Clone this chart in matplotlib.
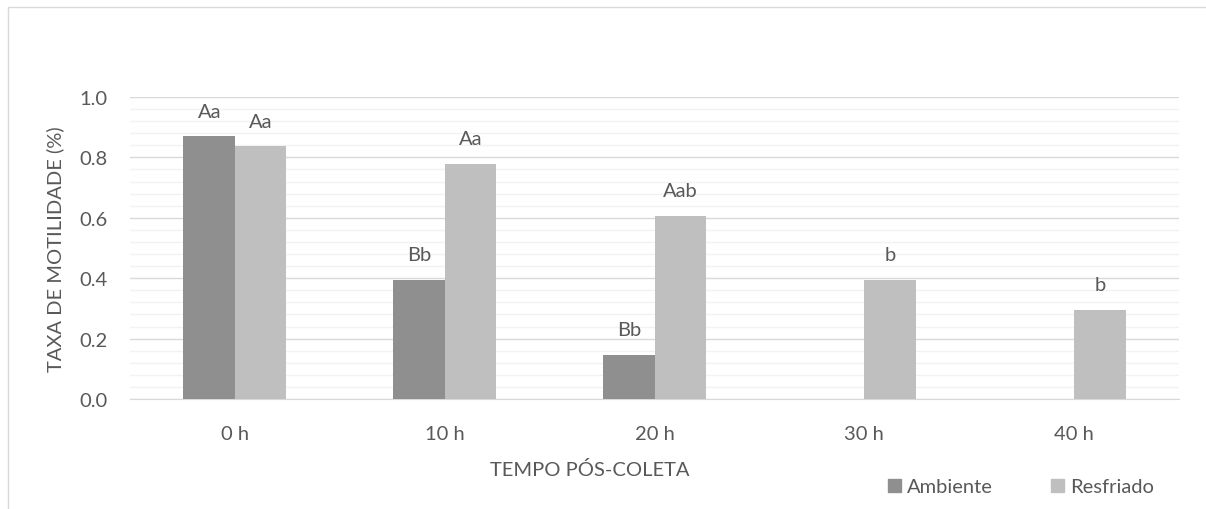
import numpy as np
from matplotlib import pyplot as plt
from matplotlib.patches import Rectangle, Patch
from matplotlib.ticker import MultipleLocator

plt.rcParams['font.family'] = ['Lato', 'DejaVu Sans']

categories = ['0 h', '10 h', '20 h', '30 h', '40 h']
ambiente = [0.87, 0.394, 0.146, 0, 0]
resfriado = [0.837, 0.778, 0.607, 0.394, 0.295]
labels_ambiente = ['Aa', 'Bb', 'Bb', '', '']
labels_resfriado = ['Aa', 'Aa', 'Aab', 'b', 'b']

text_color = '#595959'
c_amb = '#8f8f8f'
c_res = '#bfbfbf'
fs = 14.5

fig = plt.figure(figsize=(12.06, 5.10), dpi=100)
ax = fig.add_axes([130 / 1206, 110 / 510, 1049 / 1206, 302 / 510])

# chart area border (only top and left visible in the crop)
fig.patches.append(Rectangle((8 / 1206, -0.1), 1.2, 1.1 - 8 / 510, transform=fig.transFigure,
                             fill=False, edgecolor='#d9d9d9', linewidth=1.0))

x = np.arange(len(categories))
w = 0.245
bars_a = ax.bar(x - w / 2, ambiente, w, color=c_amb, zorder=3)
bars_r = ax.bar(x + w / 2, resfriado, w, color=c_res, zorder=3)

for bars, labs in [(bars_a, labels_ambiente), (bars_r, labels_resfriado)]:
    for rect, lab in zip(bars, labs):
        if lab:
            ax.annotate(lab, (rect.get_x() + rect.get_width() / 2, rect.get_height()),
                        xytext=(0, 12), textcoords='offset points', ha='center', va='bottom',
                        fontsize=fs, color=text_color)

ax.set_xlim(-0.5, len(categories) - 0.5)
ax.set_ylim(0, 1.0)
ax.yaxis.set_minor_locator(MultipleLocator(0.04))
ax.set_yticks(np.arange(0, 1.01, 0.2))
ax.set_yticklabels([f'{v:.1f}' for v in np.arange(0, 1.01, 0.2)])
ax.set_xticks(x)
ax.set_xticklabels(categories)

ax.grid(axis='y', which='major', color='#d9d9d9', linewidth=1.0, zorder=1)
ax.grid(axis='y', which='minor', color='#f2f2f2', linewidth=1.0, zorder=0)
ax.tick_params(axis='both', which='both', length=0, labelsize=fs, labelcolor=text_color)
ax.tick_params(axis='y', pad=16)
ax.tick_params(axis='x', pad=19)
for s in ['top', 'right', 'left']:
    ax.spines[s].set_visible(False)
ax.spines['bottom'].set_color('#d9d9d9')

ax.set_ylabel('TAXA DE MOTILIDADE (%)', fontsize=fs, color=text_color)
ax.yaxis.set_label_coords((64 - 130) / 1049, 0.5)
ax.set_xlabel('TEMPO PÓS-COLETA', fontsize=fs, color=text_color)
ax.xaxis.set_label_coords((590 - 130) / 1049, -61 / 302)

handles = [Patch(color=c_amb, label='Ambiente'), Patch(color=c_res, label='Resfriado')]
fig.legend(handles=handles, loc='center', bbox_to_anchor=(1021 / 1206, 1 - 488 / 510),
           ncol=2, frameon=False, fontsize=fs, labelcolor=text_color,
           handlelength=0.65, handleheight=0.65, handletextpad=0.3, columnspacing=2.9)

fig.savefig('out.png', dpi=100)
